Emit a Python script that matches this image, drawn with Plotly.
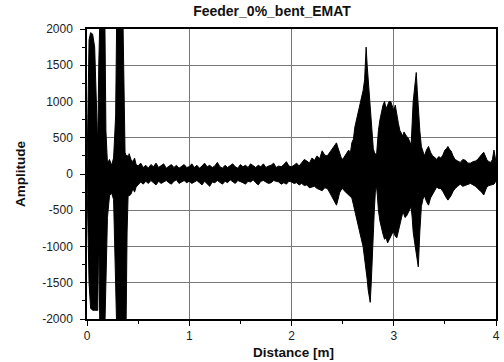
import plotly.graph_objects as go

# Envelope of the EMAT signal (distance in m, amplitude)
distance = [0.000, 0.008, 0.020, 0.035, 0.055, 0.075, 0.092, 0.105, 0.115, 0.125,
            0.175, 0.185, 0.200, 0.220, 0.240, 0.260, 0.280, 0.290, 0.352, 0.362,
            0.372, 0.382, 0.392, 0.402, 0.412, 0.43, 0.45, 0.465, 0.48, 0.50,
            0.525, 0.55, 0.575, 0.60, 0.625, 0.65, 0.675, 0.70, 0.725, 0.75,
            0.775, 0.80, 0.825, 0.85, 0.875, 0.90, 0.925, 0.95, 0.975, 1.00,
            1.025, 1.05, 1.075, 1.10, 1.125, 1.15, 1.175, 1.20, 1.225, 1.25,
            1.275, 1.30, 1.325, 1.35, 1.375, 1.40, 1.425, 1.45, 1.475, 1.50,
            1.525, 1.55, 1.575, 1.60, 1.625, 1.65, 1.675, 1.70, 1.725, 1.75,
            1.775, 1.80, 1.825, 1.85, 1.875, 1.90, 1.925, 1.95, 1.975, 2.00,
            2.025, 2.05, 2.075, 2.10, 2.125, 2.15, 2.175, 2.20, 2.225, 2.25,
            2.275, 2.30, 2.325, 2.35, 2.375, 2.40, 2.42, 2.44, 2.455, 2.47,
            2.485, 2.50, 2.515, 2.53, 2.545, 2.56, 2.575, 2.59, 2.605, 2.62,
            2.64, 2.66, 2.68, 2.70, 2.715, 2.73, 2.74, 2.75, 2.76, 2.77,
            2.78, 2.79, 2.80, 2.81, 2.82, 2.83, 2.84, 2.85, 2.865, 2.88,
            2.895, 2.91, 2.925, 2.94, 2.955, 2.97, 2.985, 3.00, 3.015, 3.03,
            3.045, 3.06, 3.075, 3.09, 3.10, 3.11, 3.125, 3.14, 3.155, 3.17,
            3.18, 3.19, 3.205, 3.22, 3.23, 3.24, 3.255, 3.27, 3.285, 3.30,
            3.32, 3.34, 3.36, 3.38, 3.40, 3.42, 3.44, 3.46, 3.48, 3.50,
            3.515, 3.53, 3.545, 3.56, 3.58, 3.60, 3.625, 3.65, 3.675, 3.70,
            3.725, 3.75, 3.775, 3.80, 3.82, 3.84, 3.86, 3.88, 3.895, 3.91,
            3.93, 3.95, 3.965, 3.98, 3.99, 4.00]
upper = [60, 900, 1850, 1950, 1930, 1750, 1100, 380, 1500, 2100,
         2100, 600, 150, 200, 120, 220, 800, 2100, 2100, 1200,
         300, 250, 260, 220, 280, 200, 170, 220, 130, 110,
         150, 90, 120, 80, 130, 100, 150, 90, 110, 140,
         80, 100, 130, 90, 120, 80, 110, 130, 90, 100,
         140, 90, 120, 80, 110, 150, 100, 120, 90, 110,
         160, 100, 80, 120, 90, 110, 140, 100, 80, 130,
         100, 120, 90, 140, 110, 90, 120, 100, 140, 90,
         110, 120, 150, 90, 110, 100, 130, 170, 110, 100,
         120, 150, 110, 160, 200, 180, 150, 220, 190, 250,
         210, 320, 260, 250, 300, 340, 380, 430, 360, 280,
         230, 200, 240, 260, 300, 330, 280, 430, 480, 650,
         780, 900, 1000, 1150, 1300, 1750, 1500, 1300, 1100, 900,
         650, 450, 350, 300, 280, 230, 420, 600, 750, 850,
         950, 1000, 900, 950, 1000, 1000, 920, 880, 950, 800,
         700, 600, 560, 520, 580, 550, 520, 500, 460, 400,
         700, 1000, 1200, 1400, 1150, 900, 600, 380, 300, 250,
         330, 380, 300, 250, 230, 200, 240, 220, 260, 330,
         350, 380, 340, 320, 250, 200, 180, 160, 200, 190,
         150, 150, 170, 180, 200, 240, 270, 300, 250, 200,
         170, 160, 200, 330, 250, 150]
lower = [-80, -700, -1500, -1850, -1880, -1880, -1880, -1880, -800, -2100,
         -2100, -1400, -600, -300, -260, -350, -1300, -2100, -2100, -2100,
         -2100, -2100, -800, -300, -300, -280, -200, -250, -180, -150,
         -110, -140, -100, -130, -90, -120, -150, -100, -130, -110,
         -90, -120, -140, -100, -80, -130, -110, -90, -120, -100,
         -130, -110, -90, -120, -150, -100, -130, -170, -110, -120,
         -90, -110, -140, -100, -120, -80, -110, -130, -90, -100,
         -120, -140, -100, -110, -80, -120, -150, -100, -90, -110,
         -130, -120, -90, -100, -110, -140, -120, -140, -100, -110,
         -130, -120, -150, -130, -160, -150, -190, -180, -170, -200,
         -210, -230, -190, -200, -260, -330, -380, -430, -350, -260,
         -220, -200, -230, -250, -270, -280, -300, -330, -420, -520,
         -640, -750, -880, -1000, -1150, -1300, -1450, -1600, -1700, -1770,
         -1500, -1100, -800, -500, -250, -150, -300, -500, -650, -750,
         -830, -900, -880, -950, -900, -850, -820, -800, -860, -880,
         -780, -680, -600, -520, -560, -600, -580, -540, -500, -450,
         -600, -800, -950, -1100, -1200, -1280, -800, -450, -350, -300,
         -380, -430, -330, -280, -220, -180, -200, -200, -240, -300,
         -330, -360, -330, -300, -240, -200, -170, -140, -170, -160,
         -140, -130, -150, -170, -200, -220, -250, -290, -240, -180,
         -160, -150, -140, -140, -120, -100]

x_ticks = [0, 1, 2, 3, 4]
y_ticks = [-2000, -1500, -1000, -500, 0, 500, 1000, 1500, 2000]

fig = go.Figure()
fig.add_trace(go.Scatter(x=distance, y=upper, mode="lines",
                         line=dict(color="black", width=1), showlegend=False))
fig.add_trace(go.Scatter(x=distance, y=lower, mode="lines", fill="tonexty",
                         fillcolor="black",
                         line=dict(color="black", width=1), showlegend=False))

font_family = "Liberation Sans, Arial, sans-serif"
fig.update_layout(
    width=504, height=362,
    margin=dict(l=87, r=8, t=29, b=43, autoexpand=False),
    paper_bgcolor="white", plot_bgcolor="white",
    font=dict(family=font_family, color="#222", size=12),
    title=dict(text="<b>Feeder_0%_bent_EMAT</b>", font=dict(size=14, color="#111"),
               x=272 / 504, xref="container", xanchor="center",
               y=1 - 11 / 362, yref="container", yanchor="middle"),
    annotations=[
        dict(text="<b>Distance [m]</b>", xref="paper", yref="paper",
             x=(293 - 87) / 409, y=-33 / 290, xanchor="center", yanchor="middle",
             showarrow=False, font=dict(size=13.5, color="#111")),
        dict(text="<b>Amplitude</b>", xref="paper", yref="paper",
             x=-67 / 409, y=0.5, xanchor="center", yanchor="middle",
             textangle=-90, showarrow=False, font=dict(size=13.5, color="#111")),
    ],
)
fig.update_xaxes(
    range=[0, 4], tickvals=x_ticks, ticktext=[str(v) for v in x_ticks],
    showgrid=True, gridcolor="#777", gridwidth=1,
    showline=True, linecolor="black", linewidth=1.5, mirror=True,
    ticks="outside", ticklen=5, tickcolor="black",
    minor=dict(dtick=0.5, ticks="outside", ticklen=3, tickcolor="black", showgrid=False),
    zeroline=False, automargin=False,
)
fig.update_yaxes(
    range=[-2000, 2000], tickvals=y_ticks, ticktext=[str(v) for v in y_ticks],
    showgrid=True, gridcolor="#777", gridwidth=1,
    showline=True, linecolor="black", linewidth=1.5, mirror=True,
    ticks="outside", ticklen=5, tickcolor="black", ticklabelstandoff=5,
    minor=dict(dtick=250, ticks="outside", ticklen=3, tickcolor="black", showgrid=False),
    zeroline=False, automargin=False,
)

fig.write_html("out.html")
